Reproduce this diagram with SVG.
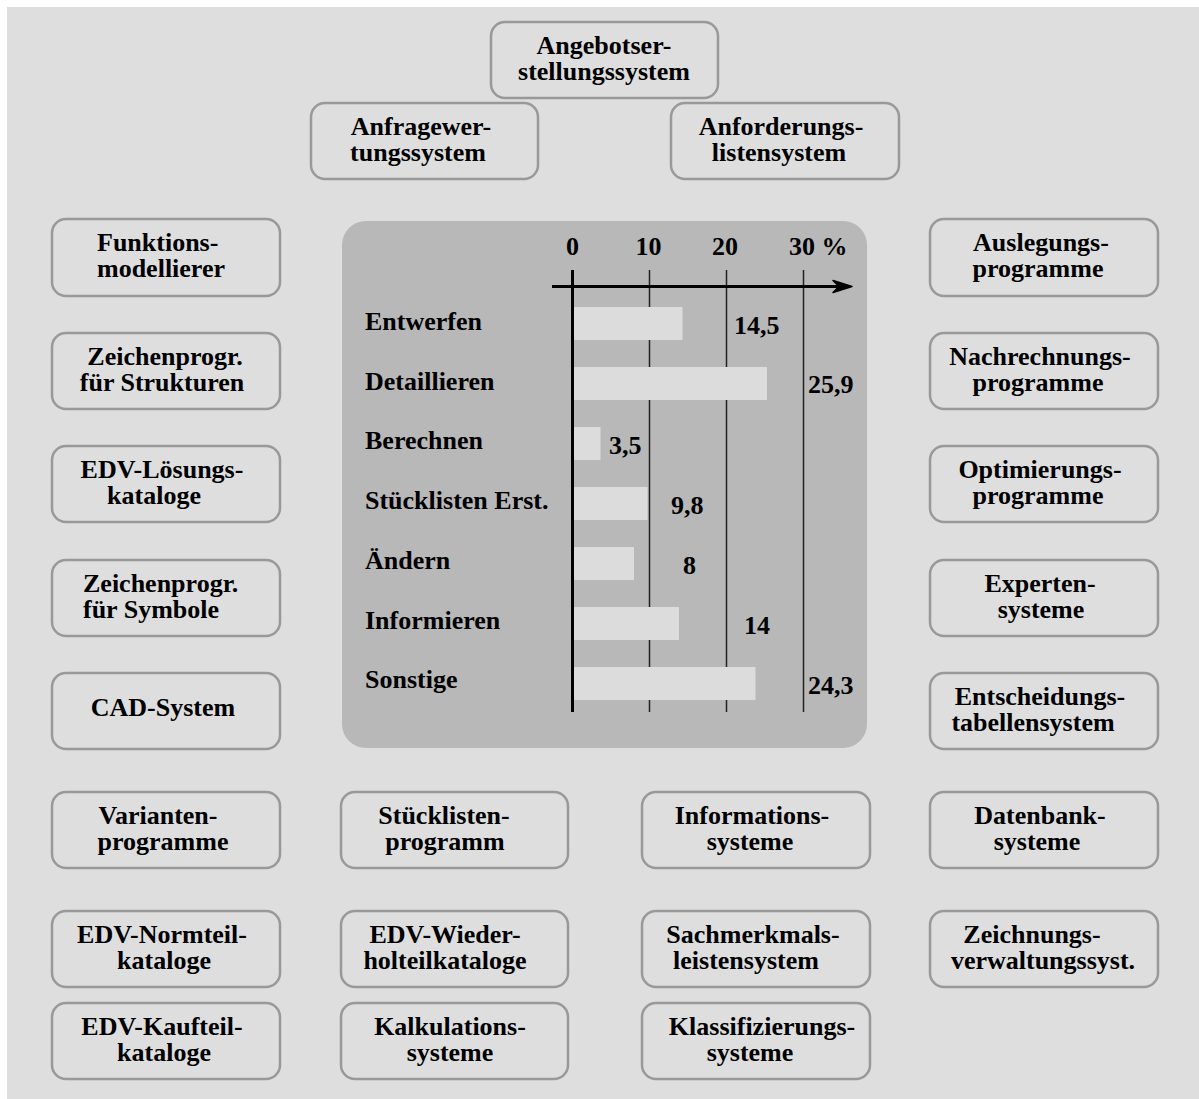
<svg xmlns="http://www.w3.org/2000/svg" width="1199" height="1099" viewBox="0 0 1199 1099">
  <defs>
    <style>
      .box { fill: #dedede; stroke: #999999; stroke-width: 2.5; }
      .t { font-family: "Liberation Serif", "Times New Roman", serif; font-weight: bold; font-size: 26px; fill: #000; }
      .c { text-anchor: middle; }
      .bar { fill: #dcdcdc; }
      .grid { stroke: #222; stroke-width: 1.5; }
    </style>
  </defs>

  <rect x="0" y="0" width="1199" height="1099" fill="#ffffff"/>
  <rect x="7" y="7" width="1192" height="1092" fill="#dedede"/>

  <!-- top row -->
  <g id="angebot"><rect class="box" x="491" y="22" width="227" height="76" rx="14"/>
    <text class="t c" x="604" y="54">Angebotser-</text><text class="t c" x="604" y="80">stellungssystem</text></g>
  <g id="anfrage"><rect class="box" x="311" y="103" width="227" height="76" rx="14"/>
    <text class="t c" x="421" y="135">Anfragewer-</text><text class="t c" x="418" y="161">tungssystem</text></g>
  <g id="anforderung"><rect class="box" x="671" y="103" width="228" height="76" rx="14"/>
    <text class="t c" x="781" y="135">Anforderungs-</text><text class="t c" x="779" y="161">listensystem</text></g>

  <!-- left column -->
  <g id="funktion"><rect class="box" x="52" y="219" width="228" height="77" rx="14"/>
    <text class="t" x="97" y="251">Funktions-</text><text class="t" x="97" y="277">modellierer</text></g>
  <g id="zeichen-strukturen"><rect class="box" x="52" y="333" width="228" height="76" rx="14"/>
    <text class="t c" x="165" y="365">Zeichenprogr.</text><text class="t c" x="162" y="391">für Strukturen</text></g>
  <g id="edv-loesung"><rect class="box" x="52" y="446" width="228" height="76" rx="14"/>
    <text class="t c" x="162" y="478">EDV-Lösungs-</text><text class="t c" x="154" y="504">kataloge</text></g>
  <g id="zeichen-symbole"><rect class="box" x="52" y="560" width="228" height="76" rx="14"/>
    <text class="t" x="83" y="592">Zeichenprogr.</text><text class="t" x="83" y="618">für Symbole</text></g>
  <g id="cad"><rect class="box" x="52" y="673" width="228" height="76" rx="14"/>
    <text class="t c" x="163" y="716">CAD-System</text></g>
  <g id="varianten"><rect class="box" x="52" y="792" width="228" height="76" rx="14"/>
    <text class="t c" x="158" y="824">Varianten-</text><text class="t c" x="163" y="850">programme</text></g>
  <g id="normteil"><rect class="box" x="52" y="911" width="228" height="76" rx="14"/>
    <text class="t c" x="162" y="943">EDV-Normteil-</text><text class="t c" x="164" y="969">kataloge</text></g>
  <g id="kaufteil"><rect class="box" x="52" y="1003" width="228" height="76" rx="14"/>
    <text class="t c" x="162" y="1035">EDV-Kaufteil-</text><text class="t c" x="164" y="1061">kataloge</text></g>

  <!-- middle columns -->
  <g id="stueckliste"><rect class="box" x="341" y="792" width="227" height="76" rx="14"/>
    <text class="t c" x="444" y="824">Stücklisten-</text><text class="t c" x="445" y="850">programm</text></g>
  <g id="wiederholteil"><rect class="box" x="341" y="911" width="227" height="76" rx="14"/>
    <text class="t c" x="445" y="943">EDV-Wieder-</text><text class="t c" x="445" y="969">holteilkataloge</text></g>
  <g id="kalkulation"><rect class="box" x="341" y="1003" width="227" height="76" rx="14"/>
    <text class="t c" x="450" y="1035">Kalkulations-</text><text class="t c" x="450" y="1061">systeme</text></g>
  <g id="information"><rect class="box" x="642" y="792" width="228" height="76" rx="14"/>
    <text class="t c" x="752" y="824">Informations-</text><text class="t c" x="750" y="850">systeme</text></g>
  <g id="sachmerkmal"><rect class="box" x="642" y="911" width="228" height="76" rx="14"/>
    <text class="t c" x="753" y="943">Sachmerkmals-</text><text class="t c" x="746" y="969">leistensystem</text></g>
  <g id="klassifizierung"><rect class="box" x="642" y="1003" width="228" height="76" rx="14"/>
    <text class="t c" x="762" y="1035">Klassifizierungs-</text><text class="t c" x="750" y="1061">systeme</text></g>

  <!-- right column -->
  <g id="auslegung"><rect class="box" x="930" y="219" width="228" height="77" rx="14"/>
    <text class="t c" x="1041" y="251">Auslegungs-</text><text class="t c" x="1038" y="277">programme</text></g>
  <g id="nachrechnung"><rect class="box" x="930" y="333" width="228" height="76" rx="14"/>
    <text class="t c" x="1040" y="365">Nachrechnungs-</text><text class="t c" x="1038" y="391">programme</text></g>
  <g id="optimierung"><rect class="box" x="930" y="446" width="228" height="76" rx="14"/>
    <text class="t c" x="1040" y="478">Optimierungs-</text><text class="t c" x="1038" y="504">programme</text></g>
  <g id="experten"><rect class="box" x="930" y="560" width="228" height="76" rx="14"/>
    <text class="t c" x="1040" y="592">Experten-</text><text class="t c" x="1041" y="618">systeme</text></g>
  <g id="entscheidung"><rect class="box" x="930" y="673" width="228" height="76" rx="14"/>
    <text class="t c" x="1040" y="705">Entscheidungs-</text><text class="t c" x="1033" y="731">tabellensystem</text></g>
  <g id="datenbank"><rect class="box" x="930" y="792" width="228" height="76" rx="14"/>
    <text class="t c" x="1040" y="824">Datenbank-</text><text class="t c" x="1037" y="850">systeme</text></g>
  <g id="zeichnungsverwaltung"><rect class="box" x="930" y="911" width="228" height="76" rx="14"/>
    <text class="t c" x="1032" y="943">Zeichnungs-</text><text class="t c" x="1043" y="969">verwaltungssyst.</text></g>

  <!-- central bar chart -->
  <g id="chart">
    <rect x="342" y="221" width="525" height="527" rx="24" fill="#b8b8b8"/>
    <line class="grid" x1="649.5" y1="270" x2="649.5" y2="712" stroke="#444"/>
    <line class="grid" x1="726.5" y1="270" x2="726.5" y2="712"/>
    <line class="grid" x1="803.5" y1="270" x2="803.5" y2="712"/>
    <rect class="bar" x="573.5" y="307" width="109" height="33"/>
    <rect class="bar" x="573.5" y="367" width="193.5" height="33"/>
    <rect class="bar" x="573.5" y="427" width="27" height="33"/>
    <rect class="bar" x="573.5" y="487" width="74" height="33"/>
    <rect class="bar" x="573.5" y="547" width="60.5" height="33"/>
    <rect class="bar" x="573.5" y="607" width="105.5" height="33"/>
    <rect class="bar" x="573.5" y="667" width="182" height="33"/>
    <line x1="572.5" y1="270" x2="572.5" y2="712" stroke="#000" stroke-width="3"/>
    <line x1="552" y1="286.5" x2="846" y2="286.5" stroke="#000" stroke-width="3"/>
    <path d="M 852 286.5 L 833 280.5 L 839 286.5 L 833 292.5 Z" fill="#000" stroke="#000" stroke-width="1.5" stroke-linejoin="round"/>
    <text class="t c" x="572.5" y="255">0</text>
    <text class="t c" x="648.5" y="255">10</text>
    <text class="t c" x="725" y="255">20</text>
    <text class="t" x="789" y="255">30 %</text>
    <text class="t" x="365" y="330">Entwerfen</text>
    <text class="t" x="365" y="390">Detaillieren</text>
    <text class="t" x="365" y="449">Berechnen</text>
    <text class="t" x="365" y="509">Stücklisten Erst.</text>
    <text class="t" x="365" y="569">Ändern</text>
    <text class="t" x="365" y="629">Informieren</text>
    <text class="t" x="365" y="688">Sonstige</text>
    <text class="t" x="734" y="334">14,5</text>
    <text class="t" x="808" y="393">25,9</text>
    <text class="t" x="609" y="454">3,5</text>
    <text class="t" x="671" y="514">9,8</text>
    <text class="t" x="683" y="574">8</text>
    <text class="t" x="744" y="634">14</text>
    <text class="t" x="808" y="694">24,3</text>
  </g>
</svg>
